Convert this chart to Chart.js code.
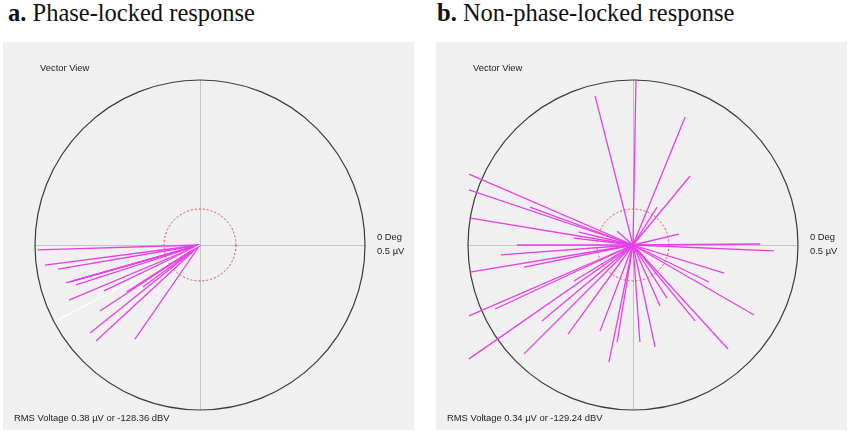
<!DOCTYPE html>
<html>
<head>
<meta charset="utf-8">
<script src="https://cdn.jsdelivr.net/npm/chart.js@4"></script>
<style>
  html, body { margin:0; padding:0; background:#ffffff; }
  body { width:850px; height:432px; position:relative; overflow:hidden; }
  .title { position:absolute; font-family:"Liberation Serif","Times New Roman",serif; font-size:24.5px; line-height:24px; color:#111; white-space:nowrap; }
  .title b { font-weight:bold; }
  .panel { position:absolute; top:42px; width:411px; height:388px; background:#f0f0f0; }
  .panel canvas { position:absolute; left:0; top:0; }
  .lbl { position:absolute; font-family:"Liberation Sans",Arial,sans-serif; font-size:9.4px; line-height:9px; color:#222; white-space:nowrap; }
</style>
</head>
<body>
<div class="title" style="left:8px;top:1px;"><b>a.</b> Phase-locked response</div>
<div class="title" style="left:437px;top:1px;"><b>b.</b> Non-phase-locked response</div>

<div class="panel" id="pA" style="left:3px;">
  <canvas id="cA" width="411" height="388"></canvas>
  <div class="lbl" style="left:37px;top:21px;">Vector View</div>
  <div class="lbl" style="left:374px;top:190px;">0 Deg</div>
  <div class="lbl" style="left:374px;top:204px;">0.5 µV</div>
  <div class="lbl" id="rmsA" style="left:11px;top:371px;"></div>
</div>
<div class="panel" id="pB" style="left:436px;">
  <canvas id="cB" width="411" height="388"></canvas>
  <div class="lbl" style="left:37px;top:21px;">Vector View</div>
  <div class="lbl" style="left:374px;top:190px;">0 Deg</div>
  <div class="lbl" style="left:374px;top:204px;">0.5 µV</div>
  <div class="lbl" id="rmsB" style="left:11px;top:371px;"></div>
</div>

<script>
// ---- Data (µV, real / imaginary components of each sweep vector) ----
const FULL_SCALE_UV = 0.5;      // outer circle = 0.5 µV
const NOISE_RADIUS_UV = 0.109;  // red dashed circle

const LOCKED_X = [-0.491, -0.470, -0.430, -0.406, -0.394, -0.385, -0.376, -0.291, -0.397, -0.303, -0.333, -0.315, -0.197, -0.173, -0.222];
const LOCKED_Y = [-0.015, -0.061, -0.073, -0.115, -0.112, -0.109, -0.121, -0.139, -0.167, -0.200, -0.267, -0.291, -0.285, -0.127, -0.142];
const LOCKED_FAINT_X = [-0.430];
const LOCKED_FAINT_Y = [-0.227];

const NONLOCKED_X = [-0.115, 0.009, 0.158, 0.173, 0.073, 0.139, 0.385, 0.427, 0.276, 0.230, 0.367, 0.288, 0.188, 0.103, 0.082, 0.067, 0.021, -0.073, -0.100, -0.048, -0.197, -0.276, -0.330, -0.418, -0.497, -0.497, -0.494, -0.400, -0.330, -0.352, -0.179, -0.497, -0.497, -0.312, -0.497, -0.164, -0.179, -0.048];
const NONLOCKED_Y = [0.452, 0.503, 0.388, 0.209, 0.115, 0.033, 0.003, -0.018, -0.085, -0.112, -0.212, -0.315, -0.230, -0.161, -0.185, -0.309, -0.294, -0.355, -0.261, -0.294, -0.270, -0.230, -0.330, -0.194, -0.215, -0.345, -0.082, -0.030, -0.067, 0.000, -0.109, 0.215, 0.167, 0.115, 0.082, 0.039, 0.021, 0.042];

const RMS_TEXT = ["RMS Voltage 0.38 µV or -128.36 dBV", "RMS Voltage 0.34 µV or -129.24 dBV"];

document.getElementById('rmsA').textContent = RMS_TEXT[0];
document.getElementById('rmsB').textContent = RMS_TEXT[1];

// ---- Layout (pixels) ----
const W = 411, H = 388, CX = 197, CY = 203, R_PX = 165;
const K = FULL_SCALE_UV / R_PX;

const polarFrame = {
  id: 'polarFrame',
  beforeDatasetsDraw(chart) {
    const ctx = chart.ctx, sx = chart.scales.x, sy = chart.scales.y;
    const cx = sx.getPixelForValue(0), cy = sy.getPixelForValue(0);
    const r = sx.getPixelForValue(FULL_SCALE_UV) - cx;
    const rn = sx.getPixelForValue(NOISE_RADIUS_UV) - cx;
    ctx.save();
    ctx.strokeStyle = '#c4c4c4'; ctx.lineWidth = 1;
    ctx.beginPath();
    ctx.moveTo(cx - r, cy + 0.5); ctx.lineTo(cx + r, cy + 0.5);
    ctx.moveTo(cx + 0.5, cy - r); ctx.lineTo(cx + 0.5, cy + r);
    ctx.stroke();
    ctx.strokeStyle = '#3c3c3c'; ctx.lineWidth = 1.2;
    ctx.beginPath(); ctx.arc(cx, cy, r, 0, Math.PI * 2); ctx.stroke();
    ctx.strokeStyle = '#d84848'; ctx.lineWidth = 1; ctx.setLineDash([2, 2]);
    ctx.beginPath(); ctx.arc(cx, cy, rn, 0, Math.PI * 2); ctx.stroke();
    ctx.restore();
  }
};

function vectorSets(xs, ys, color) {
  return xs.map((x, i) => ({
    data: [{x: 0, y: 0}, {x: x, y: ys[i]}],
    showLine: true, borderColor: color, borderWidth: 1.3,
    pointRadius: 0, pointHoverRadius: 0, fill: false
  }));
}

function makeChart(id, datasets) {
  new Chart(document.getElementById(id), {
    type: 'scatter',
    data: { datasets },
    options: {
      responsive: false, animation: false, devicePixelRatio: 1,
      layout: { padding: 0 },
      plugins: { legend: { display: false }, tooltip: { enabled: false } },
      events: [],
      scales: {
        x: { type: 'linear', display: false, min: -CX * K, max: (W - CX) * K },
        y: { type: 'linear', display: false, min: -(H - CY) * K, max: CY * K }
      }
    },
    plugins: [polarFrame]
  });
}

const MAGENTA = '#e83ee8';
makeChart('cA', vectorSets(LOCKED_FAINT_X, LOCKED_FAINT_Y, 'rgba(255,255,255,0.9)').concat(vectorSets(LOCKED_X, LOCKED_Y, MAGENTA)));
makeChart('cB', vectorSets(NONLOCKED_X, NONLOCKED_Y, MAGENTA));
</script>
</body>
</html>
